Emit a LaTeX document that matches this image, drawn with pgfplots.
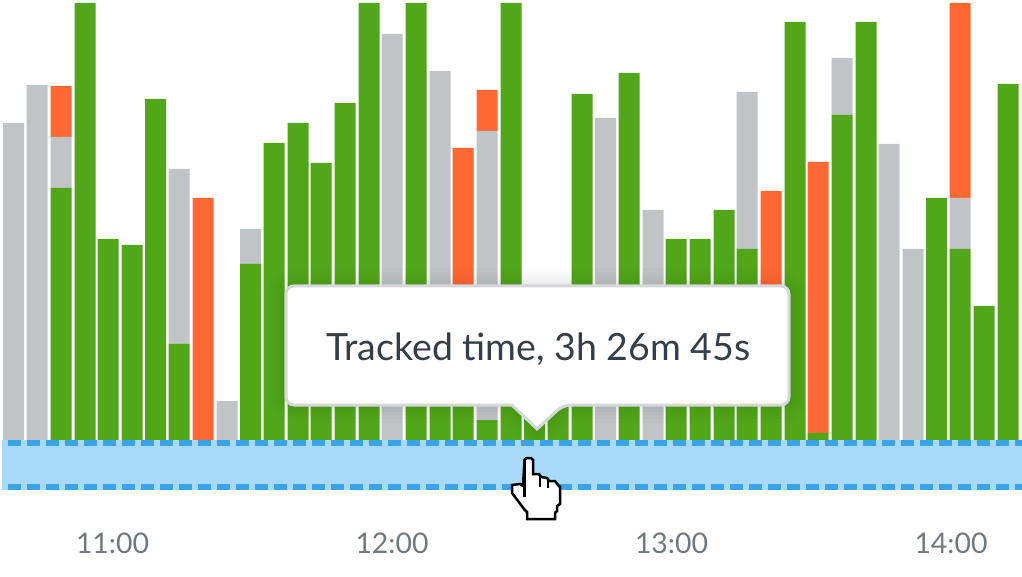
\documentclass[border=0pt]{standalone}
\usepackage{fontspec}
\setmainfont{Lato}
\usepackage{pgfplots}
\usepackage{pgfplotstable}
\pgfplotsset{compat=1.18}
\definecolor{gbar}{HTML}{51A61A}
\definecolor{sbar}{HTML}{C1C4C6}
\definecolor{obar}{HTML}{FF6833}
\definecolor{bandfill}{HTML}{A9D9F9}
\definecolor{banddash}{HTML}{3BA4E6}
\definecolor{ticktext}{HTML}{6F7A80}
\definecolor{tiptext}{HTML}{333E48}
\definecolor{tipedge}{HTML}{D5D7DA}
\pgfplotstableread{
x green gray orange
13.5 0 317 0
37 0 355 0
61 252 51 51
85 437 0 0
108 201 0 0
132 195 0 0
155.5 341 0 0
179 96 175 0
203 0 0 242
227 0 39 0
250.5 176 35 0
274 297 0 0
298 317 0 0
321 277 0 0
345 337 0 0
369 437 0 0
392 0 406 0
416 437 0 0
440 100 269 0
463 110 0 182
487 20 289 41
511 437 0 0
534.5 140 0 0
558 130 0 0
582 346 0 0
605.5 0 322 0
629 367 0 0
653 0 230 0
676 201 0 0
700 201 0 0
724 230 0 0
747 191 157 0
771 120 0 129
795 418 0 0
818 7 0 271
842 325 57 0
866 418 0 0
889 0 296 0
913 0 191 0
936.5 242 0 0
960 191 51 195
984 134 0 0
1008 356 0 0
}\bars
\newcommand\tippath{[rounded corners=8pt]
  (axis cs:286,154) -- (axis cs:789,154) -- (axis cs:789,35) -- (axis cs:563,35)
  [sharp corners] -- (axis cs:537,11) -- (axis cs:512,35) [rounded corners=8pt]
  -- (axis cs:286,35) -- cycle}
\begin{document}
\begin{tikzpicture}
\begin{axis}[
  at={(0,0)}, anchor=south west,
  scale only axis, width=1022pt, height=576pt,
  xmin=0, xmax=1022, ymin=-136, ymax=440,
  ybar stacked, bar width=21pt,
  axis line style={draw=none},
  tick style={draw=none},
  ytick=\empty,
  xtick={112.5,392,671.5,951},
  xticklabels={11:00,12:00,13:00,14:00},
  xticklabel style={anchor=center,yshift=33pt,text=ticktext,font=\fontsize{28.4}{30}\selectfont},
  clip=false,
]
\addplot[fill=gbar,draw=none] table[x=x,y=green] {\bars};
\addplot[fill=sbar,draw=none] table[x=x,y=gray] {\bars};
\addplot[fill=obar,draw=none] table[x=x,y=orange] {\bars};
\end{axis}
\begin{axis}[
  at={(0,0)}, anchor=south west,
  scale only axis, width=1022pt, height=576pt,
  xmin=0, xmax=1022, ymin=-136, ymax=440,
  hide axis, clip=false,
]
% tooltip shadow
\draw[black,opacity=.012,line width=36pt] \tippath;
\draw[black,opacity=.012,line width=28pt] \tippath;
\draw[black,opacity=.014,line width=20pt] \tippath;
\draw[black,opacity=.016,line width=13pt] \tippath;
\draw[black,opacity=.02,line width=7pt] \tippath;
% selection band
\fill[bandfill] (axis cs:2,0) rectangle (axis cs:1022,-50);
\draw[banddash,line width=6pt,dash pattern=on 13pt off 6pt,dash phase=13pt] (axis cs:2,-3) -- (axis cs:1022,-3);
\draw[banddash,line width=6pt,dash pattern=on 13pt off 6pt,dash phase=13pt] (axis cs:2,-47) -- (axis cs:1022,-47);
% tooltip
\draw[tipedge,fill=white,line width=3pt] \tippath;
\node[anchor=center,text=tiptext,font=\fontsize{37.5}{38}\selectfont,inner sep=0pt] at (axis cs:538.5,91) {Tracked time, 3h 26m 45s};
% hand cursor
\draw[black,fill=white,line width=2.5pt,line join=miter]
  (axis cs:524.5,-20) -- (axis cs:526.5,-18) -- (axis cs:531,-18) -- (axis cs:533,-20)
  -- (axis cs:533,-34) -- (axis cs:539,-34) -- (axis cs:541,-37) -- (axis cs:547,-38)
  -- (axis cs:549,-41) -- (axis cs:555,-41) -- (axis cs:558,-45) -- (axis cs:560,-47)
  -- (axis cs:560,-64) -- (axis cs:557,-66) -- (axis cs:557,-71) -- (axis cs:555,-73)
  -- (axis cs:555,-79) -- (axis cs:527,-79) -- (axis cs:527,-72) -- (axis cs:524,-69)
  -- (axis cs:512,-53) -- (axis cs:512,-45) -- (axis cs:520,-44) -- (axis cs:523,-46) -- cycle;
\draw[black,line width=3pt] (axis cs:524.5,-20) -- (axis cs:524.5,-57);
\draw[black,line width=2pt] (axis cs:540,-35) -- (axis cs:540,-47);
\draw[black,line width=2pt] (axis cs:548,-39) -- (axis cs:548,-48);
\end{axis}
\pgfresetboundingbox
\path[use as bounding box] (0,0) rectangle (1022pt,576pt);
\end{tikzpicture}
\end{document}
